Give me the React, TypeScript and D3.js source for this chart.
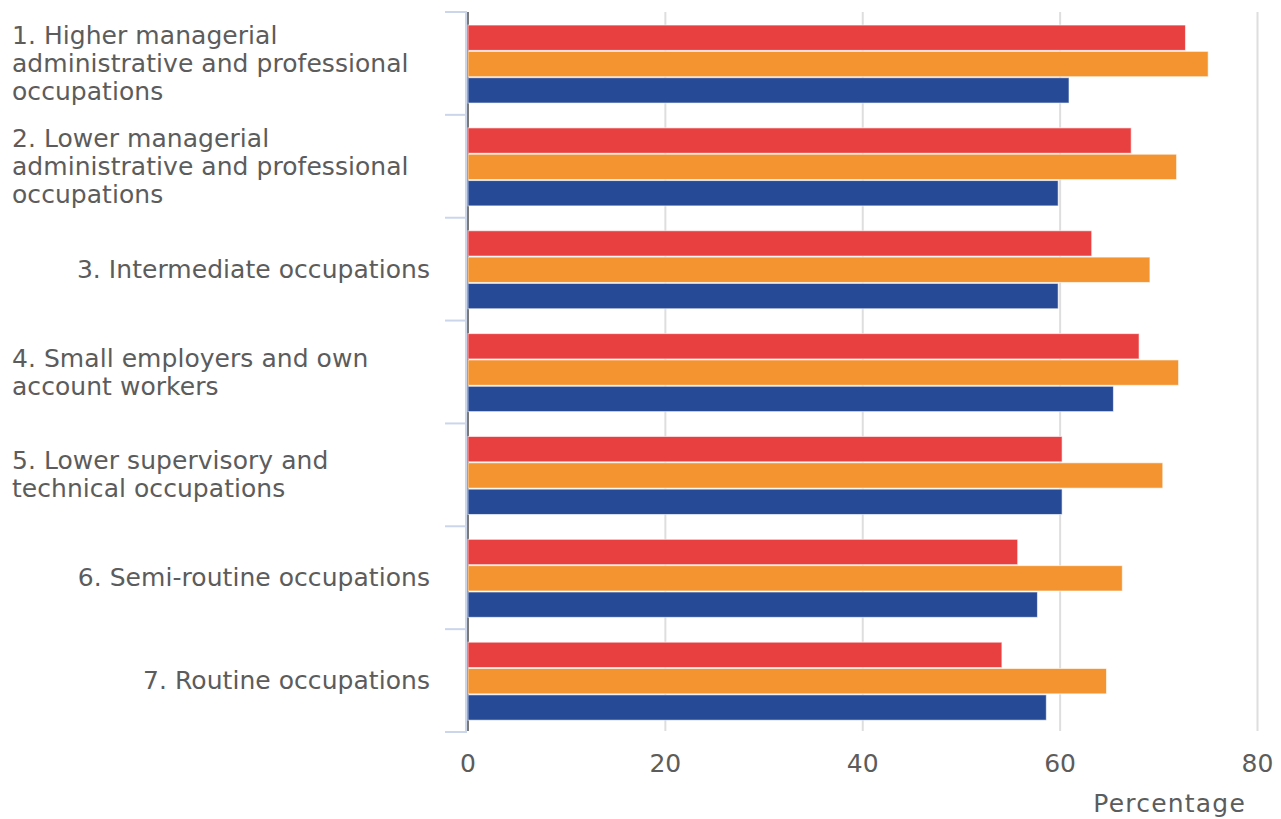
import React from "react";
import * as d3 from "d3";

const categories = [
  "1. Higher managerial administrative and professional occupations",
  "2. Lower managerial administrative and professional occupations",
  "3. Intermediate occupations",
  "4. Small employers and own account workers",
  "5. Lower supervisory and technical occupations",
  "6. Semi-routine occupations",
  "7. Routine occupations",
];
const categoryLines = [
  ["1. Higher managerial", "administrative and professional", "occupations"],
  ["2. Lower managerial", "administrative and professional", "occupations"],
  ["3. Intermediate occupations"],
  ["4. Small employers and own", "account workers"],
  ["5. Lower supervisory and", "technical occupations"],
  ["6. Semi-routine occupations"],
  ["7. Routine occupations"],
];
const seriesNames = ["Series 1", "Series 2", "Series 3"];
const seriesColors = ["#E84040", "#F39430", "#274A96"];
const series1 = [72.7, 67.2, 63.2, 68.0, 60.2, 55.7, 54.1];
const series2 = [75.0, 71.8, 69.1, 72.0, 70.4, 66.3, 64.7];
const series3 = [60.9, 59.8, 59.8, 65.4, 60.2, 57.7, 58.6];
const xTicks = [0, 20, 40, 60, 80];
const xAxisTitle = "Percentage";

const W = 1281;
const H = 819;
const FONT = "'DejaVu Sans', sans-serif";
const TEXT = "#5c5c5c";

export default function App() {
  const seriesValues = [series1, series2, series3];
  const x = d3.scaleLinear().domain([0, 80]).range([468, 1257.5]);
  const y = d3.scaleBand<string>().domain(categories).range([12, 732]).paddingInner(0).paddingOuter(0);
  const bw = y.bandwidth();
  const inner = d3
    .scaleBand<string>()
    .domain(seriesNames)
    .range([bw * 0.122, bw * 0.89])
    .paddingInner(0);
  const ib = inner.bandwidth();
  const boundaries = d3.range(categories.length + 1).map((i) => 12 + i * bw);

  return (
    <svg
      width={W}
      height={H}
      style={{ position: "absolute", left: 0, top: 0, display: "block", background: "#fff" }}
      fontFamily={FONT}
    >
      {xTicks.map((t) => (
        <line
          key={"g" + t}
          x1={x(t)}
          x2={x(t)}
          y1={12}
          y2={731}
          stroke={t === 0 ? "#7a7a7a" : "#dedede"}
          strokeWidth={2}
        />
      ))}
      <line x1={466} x2={466} y1={12} y2={732} stroke="#ccd6eb" strokeWidth={2} />
      {boundaries.map((b, i) => (
        <line key={"t" + i} x1={445} x2={467} y1={b} y2={b} stroke="#ccd6eb" strokeWidth={2} />
      ))}
      {categories.map((c, ci) => (
        <g key={c} transform={`translate(0,${y(c)})`}>
          {seriesNames.map((s, si) => (
            <rect
              key={s}
              x={x(0)}
              y={(inner(s) as number) + 0.5}
              width={x(seriesValues[si][ci]) - x(0)}
              height={ib - 1}
              fill={seriesColors[si]}
              stroke="#ffffff"
              strokeOpacity={0.6}
              strokeWidth={1}
            />
          ))}
        </g>
      ))}
      {categories.map((c, ci) => {
        const lines = categoryLines[ci];
        const center = (y(c) as number) + bw / 2;
        const lh = 28;
        const multi = lines.length > 1;
        return (
          <text
            key={"l" + c}
            fontSize={25}
            letterSpacing={0.05}
            fill={TEXT}
            textAnchor={multi ? "start" : "end"}
          >
            {lines.map((ln, li) => (
              <tspan
                key={li}
                x={multi ? 12 : 430}
                y={center + 8.6 + (li - (lines.length - 1) / 2) * lh}
              >
                {ln}
              </tspan>
            ))}
          </text>
        );
      })}
      {xTicks.map((t) => (
        <text key={"xl" + t} x={x(t)} y={772} fontSize={25} fill={TEXT} textAnchor="middle">
          {t}
        </text>
      ))}
      <text x={1246} y={812} fontSize={25} letterSpacing={1.2} fill={TEXT} textAnchor="end">
        {xAxisTitle}
      </text>
    </svg>
  );
}
